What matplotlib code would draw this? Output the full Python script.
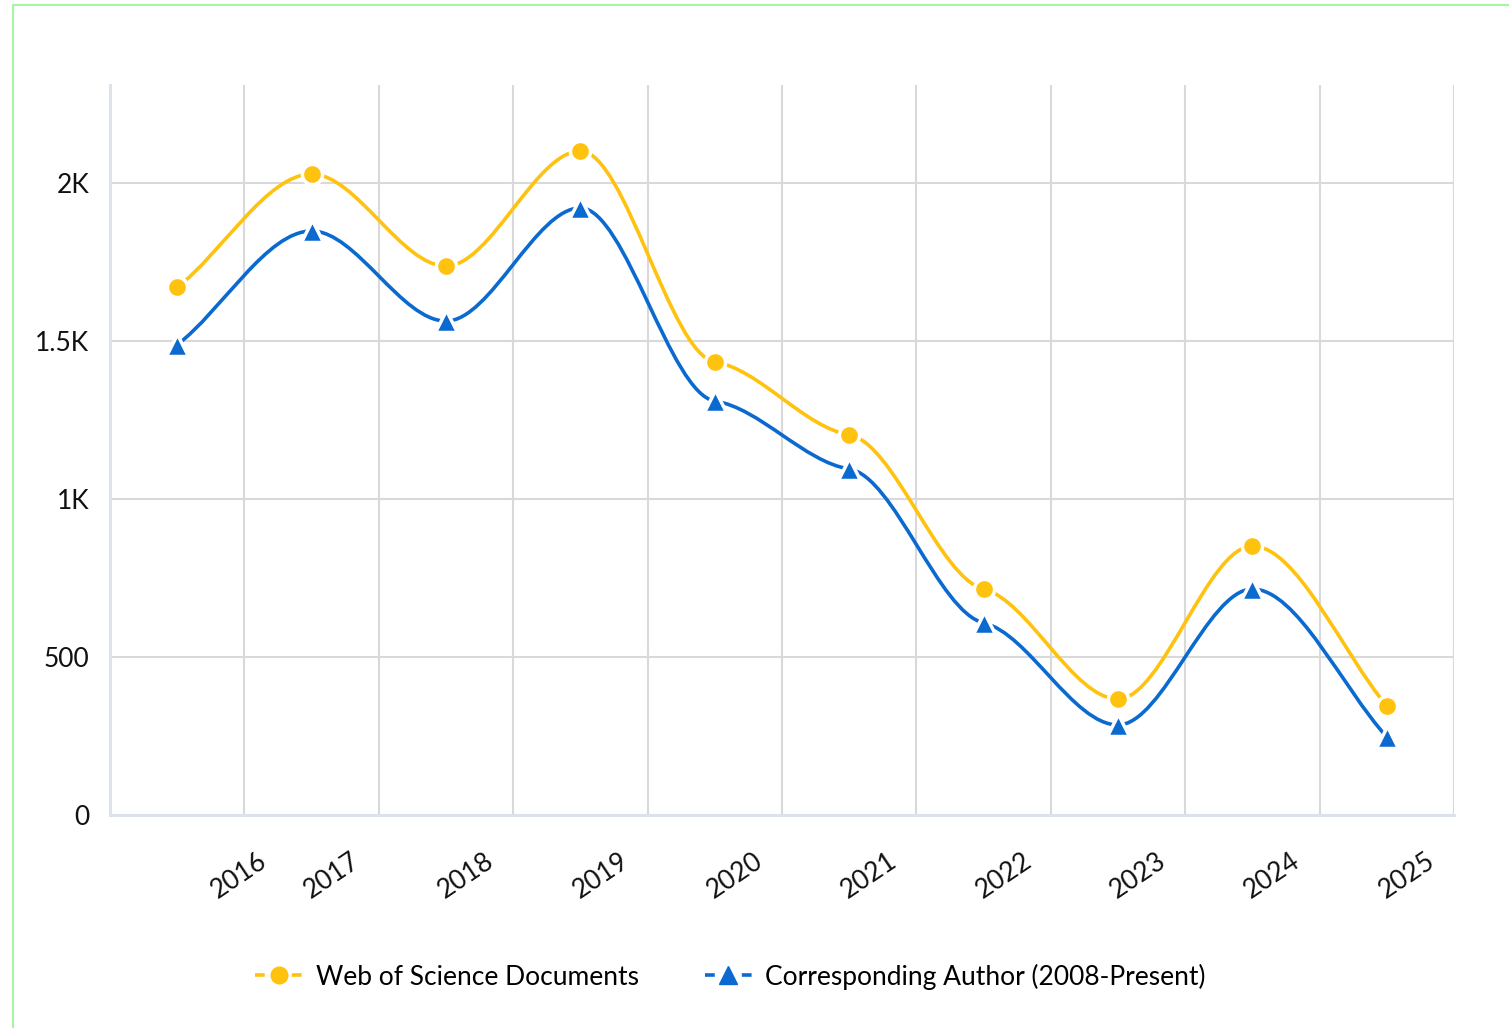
import matplotlib
matplotlib.use('Agg')
import matplotlib.pyplot as plt
import numpy as np
from matplotlib.path import Path
from matplotlib.patches import PathPatch, Rectangle
from matplotlib.lines import Line2D
from matplotlib.transforms import ScaledTranslation

plt.rcParams['font.family'] = ['Lato', 'DejaVu Sans']

years = ['2016', '2017', '2018', '2019', '2020', '2021', '2022', '2023', '2024', '2025']
wos_docs = [1670, 2028, 1737, 2101, 1434, 1203, 715, 367, 851, 345]
corr_author = [1488, 1848, 1563, 1921, 1310, 1095, 608, 285, 715, 247]
ytick_vals = [0, 500, 1000, 1500, 2000]
ytick_labels = ['0', '500', '1K', '1.5K', '2K']

YELLOW = '#FFC20E'
BLUE = '#0A6ACF'


def smooth_path(y, k=0.3):
    # flattened monotone-style cubic through the points
    y = np.asarray(y, float)
    x = np.arange(len(y))
    d = np.diff(y)
    m = np.zeros(len(y))
    m[0] = 0.9 * d[0]
    m[-1] = d[-1]
    for i in range(1, len(y) - 1):
        if d[i - 1] * d[i] > 0:
            m[i] = np.sign(d[i]) * k * min(abs(d[i - 1]), abs(d[i]))
    verts = [(x[0], y[0])]
    codes = [Path.MOVETO]
    for i in range(len(y) - 1):
        verts += [(x[i] + 1 / 3, y[i] + m[i] / 3),
                  (x[i + 1] - 1 / 3, y[i + 1] - m[i + 1] / 3),
                  (x[i + 1], y[i + 1])]
        codes += [Path.CURVE4] * 3
    return Path(verts, codes)


fig = plt.figure(figsize=(15.09, 10.28), dpi=100)
ax = fig.add_axes([110 / 1509, 1 - 815 / 1028, 1344 / 1509, 730 / 1028])

x = np.arange(len(years))
for vals, col, mk, ms in [(wos_docs, YELLOW, 'o', 14.5), (corr_author, BLUE, '^', 16)]:
    ax.add_patch(PathPatch(smooth_path(vals), fill=False, edgecolor=col, lw=2.6,
                           zorder=3, capstyle='round'))
    ax.plot(x, vals, ls='none', marker=mk, ms=ms, mfc=col, mec='white', mew=2.5,
            zorder=4, clip_on=False)

ax.set_xlim(-0.5, len(years) - 0.5)
ax.set_ylim(0, 2310)

ax.set_xticks(x)
ax.set_xticklabels(years, rotation=34, ha='center', va='center',
                   rotation_mode='anchor', fontsize=19, color='#111111')
ax.set_xticks(np.arange(-0.5, len(years), 1), minor=True)
ax.tick_params(axis='x', which='both', length=0, pad=44)
shifts = [62] + [20] * (len(years) - 1)
for lab, dx in zip(ax.get_xticklabels(), shifts):
    lab.set_transform(lab.get_transform() + ScaledTranslation(dx / 100, 0, fig.dpi_scale_trans))

ax.set_yticks(ytick_vals)
ax.set_yticklabels(ytick_labels, fontsize=19, color='#111111')
ax.tick_params(axis='y', length=0, pad=15)

ax.grid(True, which='minor', axis='x', color='#d9d9d9', lw=1.5)
ax.grid(True, which='major', axis='y', color='#d9d9d9', lw=1.5)
ax.set_axisbelow(True)

for s in ['top', 'right']:
    ax.spines[s].set_visible(False)
for s in ['left', 'bottom']:
    ax.spines[s].set_color('#dde3ea')
    ax.spines[s].set_linewidth(2.2)

handles = [
    Line2D([], [], color=YELLOW, lw=2.6, dashes=(2.7, 7.5), marker='o', ms=12, mec=YELLOW),
    Line2D([], [], color=BLUE, lw=2.6, dashes=(2.7, 7.5), marker='^', ms=13, mec=BLUE),
]
fig.legend(handles, ['Web of Science Documents', 'Corresponding Author (2008-Present)'],
           loc='center', bbox_to_anchor=(0.484, 0.05), ncol=2, frameon=False,
           fontsize=19, handlelength=1.8, columnspacing=2.5, handletextpad=0.5)

fig.patches.append(Rectangle((13 / 1509, -0.05), 1.2, 1.05 - 5 / 1028, transform=fig.transFigure,
                             fill=False, ec='#a6f5a6', lw=1.5))

fig.savefig('out.png', dpi=100)
